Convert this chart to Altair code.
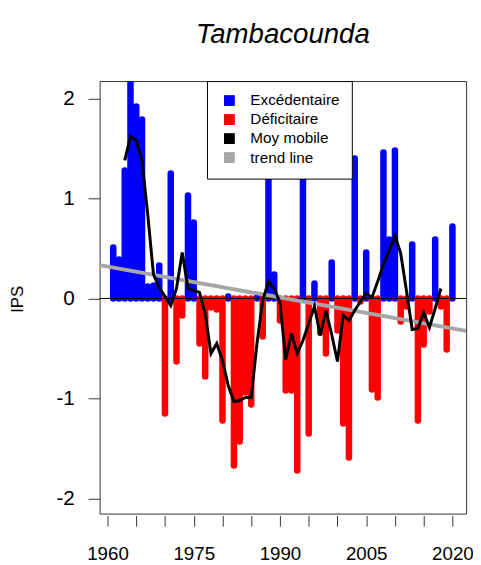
import altair as alt
import pandas as pd

# ---- data ----
years = list(range(1961, 2021))
ips = [0.51, 0.39, 1.28, 2.20, 1.92, 1.79, 0.12, 0.13, 0.33, -1.15,
       1.25, -0.63, -0.17, 1.03, 0.76, -0.45, -0.78, -0.09, -0.11, -1.22,
       0.02, -1.67, -1.43, -0.94, -1.06, 0.01, -0.38, 1.30, 0.24, -0.22,
       -0.92, -0.92, -1.72, 1.45, -1.35, 0.15, -0.34, -0.55, 0.36, -0.32,
       -1.25, -1.59, 1.40, -0.03, 0.46, -0.91, -0.99, 1.46, 0.59, 1.48,
       -0.23, -0.08, 0.54, -1.22, -0.46, -0.13, 0.59, -0.08, -0.51, 0.72]

ma_years = list(range(1963, 2019))
ma_values = [1.38, 1.62, 1.58, 1.38, 0.84, 0.24, 0.11, 0.02, -0.07, 0.10,
             0.46, 0.10, 0.08, 0.06, -0.15, -0.55, -0.45, -0.62, -0.87, -1.03,
             -1.02, -0.99, -0.99, -0.45, -0.02, 0.17, 0.10, -0.04, -0.61, -0.35,
             -0.55, -0.42, -0.25, -0.08, -0.37, -0.12, -0.36, -0.63, -0.17, -0.22,
             -0.12, -0.03, 0.05, 0.01, 0.17, 0.34, 0.48, 0.63, 0.45, 0.08,
             -0.31, -0.30, -0.14, -0.29, -0.10, 0.10]

trend_years = [1958.63, 2022.38]
trend_values = [0.333, -0.324]

x_ticks = list(range(1960, 2021, 5))
x_labels = [1960, 1975, 1990, 2005, 2020]
y_ticks = [-2, -1, 0, 1, 2]

legend_labels = ["Excédentaire", "Déficitaire", "Moy mobile", "trend line"]
legend_colors = ["#0000ff", "#ff0000", "#000000", "#a6a6a6"]

# ---- tables ----
bars = pd.DataFrame({"year": years, "ips": ips})
bars["classe"] = ["Excédentaire" if v >= 0 else "Déficitaire" for v in ips]
bars["zero"] = 0.0
ma = pd.DataFrame({"year": ma_years, "ma": ma_values})
trend = pd.DataFrame({"year": trend_years, "trend": trend_values})

FONT = "Liberation Sans"
x_scale = alt.Scale(domain=[1958.63, 2022.38], nice=False, zero=False, padding=0)
y_scale = alt.Scale(domain=[-2.15, 2.173], nice=False, zero=False, padding=0)

label_expr = f"indexof({x_labels}, datum.value) >= 0 ? toString(datum.value) : ''"
x_axis = alt.Axis(values=x_ticks, labelExpr=label_expr, title=None, domain=False,
                  offset=2, tickSize=10.7, tickColor="#333333", labelPadding=19,
                  labelFontSize=19, labelFlush=False, labelOverlap=False,
                  labelColor="black", labelFont=FONT, grid=False)
y_axis = alt.Axis(values=y_ticks, labelExpr="toString(datum.value)", title="IPS",
                  domain=False, tickSize=11.7, tickColor="#333333", labelPadding=14,
                  labelFontSize=21, labelColor="black", labelFont=FONT, grid=False,
                  titleFontSize=17, titleFontWeight="normal", titleFont=FONT,
                  titleColor="black", titleX=-83, titleY=221,
                  titleAlign="center", titleBaseline="middle")

X = alt.X("year:Q", scale=x_scale, axis=x_axis)
Y = alt.Y("ips:Q", scale=y_scale, axis=y_axis)

BAR_W = 6.6

pos_layer = alt.Chart(bars).transform_filter("datum.ips >= 0").mark_rule(
    color="#0000ff", strokeWidth=BAR_W, strokeCap="round", clip=True
).encode(x=X, y=Y, y2="zero:Q")

neg_layer = alt.Chart(bars).transform_filter("datum.ips < 0").mark_rule(
    color="#ff0000", strokeWidth=BAR_W, strokeCap="round", clip=True
).encode(x=X, y=Y, y2="zero:Q")

# zero-height bars: carry the legend only
legend_layer = alt.Chart(bars).mark_bar(width=6, strokeWidth=0).encode(
    x=X,
    y=alt.Y("zero:Q", scale=y_scale, axis=y_axis),
    y2="zero:Q",
    color=alt.Color("classe:N",
                    scale=alt.Scale(domain=legend_labels, range=legend_colors),
                    legend=alt.Legend(title=None, orient="none", legendX=109, legendY=0,
                                      symbolType="square", symbolSize=121,
                                      symbolStrokeWidth=0, symbolOffset=3,
                                      labelFontSize=15.5, labelFont=FONT,
                                      labelColor="black", labelOffset=13.5,
                                      rowPadding=2.3, padding=12)),
)

zero_layer = alt.Chart(bars).mark_rule(color="black", strokeWidth=1).encode(
    y=alt.Y("mean(zero):Q", scale=y_scale, axis=y_axis)
)

trend_layer = alt.Chart(trend).mark_line(color="#a6a6a6", strokeWidth=4, clip=True).encode(
    x=X, y=alt.Y("trend:Q", scale=y_scale, axis=y_axis)
)

ma_layer = alt.Chart(ma).mark_line(color="black", strokeWidth=3, clip=True).encode(
    x=X, y=alt.Y("ma:Q", scale=y_scale, axis=y_axis)
)

chart = alt.layer(
    pos_layer, neg_layer, legend_layer, zero_layer, trend_layer, ma_layer
).properties(
    width=372, height=439,
    title=alt.Title("Tambacounda", fontSize=28, font=FONT, fontStyle="italic",
                    fontWeight="normal", color="black", offset=10,
                    baseline="alphabetic", anchor="middle", frame="group"),
    padding={"left": 93, "top": 70, "right": 7, "bottom": 47},
    autosize=alt.AutoSizeParams(type="none"),
).configure(font=FONT).configure_view(
    stroke="#333333", strokeWidth=1
).configure_legend(
    strokeColor="black", fillColor="white", strokeWidth=1, cornerRadius=0
)

chart.save("out.html", embed_options={"renderer": "svg", "actions": False})
